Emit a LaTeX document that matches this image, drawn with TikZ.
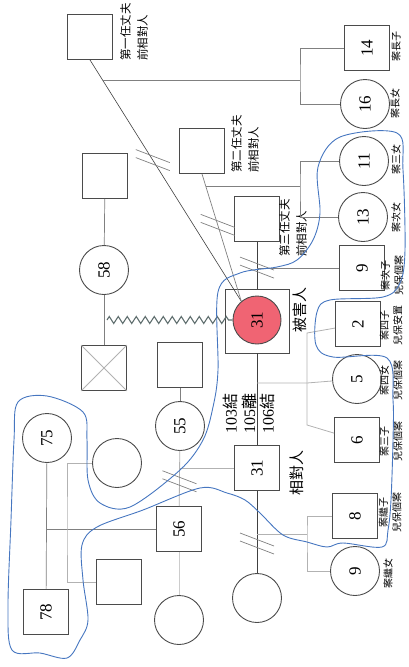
\documentclass[tikz,border=0pt]{standalone}
\usepackage{fontspec}
\usepackage{graphicx}
\setmainfont{Liberation Serif}
\newfontfamily\cjk{Noto Sans CJK TC}
\usetikzlibrary{calc,decorations.pathmorphing}

\definecolor{ink}{RGB}{75,75,75}
\definecolor{hurt}{RGB}{240,100,115}
\definecolor{pen}{RGB}{70,118,192}
\definecolor{zzc}{RGB}{95,110,110}
\newcommand{\rt}[1]{\rotatebox{90}{#1}}

\begin{document}
\begin{tikzpicture}[x=1pt, y=-1pt,
  sq/.style={rectangle, draw=ink, line width=0.9pt, minimum size=45pt, inner sep=0pt, font=\fontsize{17}{17}\selectfont},
  ci/.style={circle, draw=ink, line width=0.9pt, minimum size=49pt, inner sep=0pt, font=\fontsize{17}{17}\selectfont},
  tag/.style={rotate=90, align=center, inner sep=0pt, font=\cjk\fontsize{10}{13.5}\selectfont},
  who/.style={rotate=90, align=left, inner sep=0pt, font=\cjk\fontsize{11.5}{17}\selectfont},
  big/.style={rotate=90, inner sep=0pt, font=\cjk\fontsize{15}{15}\selectfont},
  dk/.style={draw=black!75, line width=0.6pt},
  md/.style={draw=black!50, line width=0.7pt},
  lg/.style={draw=black!30, line width=0.8pt},
  dv/.style={draw=black!50, line width=0.7pt},
  zz/.style={draw=zzc, line width=1.1pt, decorate, decoration={zigzag, segment length=9pt, amplitude=3.5pt}},
  brk/.pic={\draw[dv] (-17,-10.5) -- (17,2.5); \draw[dv] (-17,-2.5) -- (17,10.5);}
]
\useasboundingbox (0,0) rectangle (408,667);

% husbands of the victim
\node[sq] (h1) at (90,37) {};
\node[sq] (h2) at (202,151) {};
\node[sq] (h3) at (257,219) {};
\node[who] (lab1) at (134,32) {第一任丈夫\\前相對人};
\node[who] (lab2) at (245,144) {第二任丈夫\\前相對人};
\node[who] (lab3) at (293,228) {第三任丈夫\\前相對人};

% victim and abuser
\node[sq, minimum size=64pt] (vic) at (257,321) {};
\node[ci, fill=hurt, minimum size=48pt] (vicin) at (257,320) {\rt{31}};
\node[big] (vlab) at (300,310) {被害人};
\node[sq] (abu) at (257,468) {\rt{31}};
\node[big] (alab) at (297,473) {相對人};
\node[rotate=90, align=left, inner sep=0pt, font=\fontsize{16}{18.5}\selectfont] (yrs) at (249,413) {103{\cjk 結}\\105{\cjk 離}\\106{\cjk 結}};
\node[ci] (cw31) at (257,598) {};

% victim's parents
\node[sq] (gf) at (105,176) {};
\node[ci] (c58) at (104,270) {\rt{58}};
\node[sq] (dec) at (104,368) {};

% abuser's family
\node[sq] (sq55) at (180,365) {};
\node[ci] (c55) at (180,426) {\rt{55}};
\node[sq] (s56) at (179,529) {\rt{56}};
\node[ci] (cw56) at (179,620) {};
\node[ci] (c75) at (47,438) {\rt{75}};
\node[sq] (s78) at (46,612) {\rt{78}};
\node[ci] (csib) at (117,463) {};
\node[sq] (ssib) at (119,582) {};

% children
\node[sq] (s14) at (367,48) {\rt{14}};
\node[ci] (c16) at (365,104) {\rt{16}};
\node[ci] (c11) at (364,161) {\rt{11}};
\node[ci] (c13) at (363,217) {\rt{13}};
\node[sq] (s9) at (362,268) {\rt{9}};
\node[sq] (s2) at (358,324) {\rt{2}};
\node[ci] (c5) at (357,379) {\rt{5}};
\node[sq] (s6) at (357,440) {\rt{6}};
\node[sq] (s8) at (355,516) {\rt{8}};
\node[ci] (c9) at (355,571) {\rt{9}};

\node[tag] (t14) at (396,46) {案長子};
\node[tag] (t16) at (395,103) {案長女};
\node[tag] (t11) at (396,159) {案三女};
\node[tag] (t13) at (396,217) {案次女};
\node[tag] (t9) at (392,275) {案次子\\兒保個案};
\node[tag] (t2) at (391,325) {案四子\\兒保安置};
\node[tag] (t5) at (391,380) {案四女\\兒保個案};
\node[tag] (t6) at (391,441) {案三子\\兒保個案};
\node[tag] (t8) at (390,512) {案繼子\\兒保個案};
\node[tag] (t9c) at (388,573) {案繼女};

% marriages of the victim
\path (h1.south) -- (vicin.130) coordinate[pos=.083] (m1) coordinate[pos=.415] (d1);
\path (h2.south) -- (vicin.130) coordinate[pos=.094] (m2) coordinate[pos=.40] (d2);
\coordinate (x1) at (300,0);
\draw[dk] (h1.south) -- (vicin.130);
\draw[md] (h2.south) -- (vicin.130);
\draw[md] (m1) -- (m1 -| x1);
\draw[md] (s14) -| (m1 -| x1) |- (c16);
\draw[md] (m2) -- (m2 -| x1);
\draw[md] (c11) -| (m2 -| x1) |- (c13);
\draw[dk] (h3) -- (vic);
\draw[md] (h3.south |- s9) -- (s9);
\pic at (d1) {brk};
\pic at (d2) {brk};
\pic at ($(h3.south)!.55!(vic.north)$) {brk};

% victim and abuser, their children
\coordinate (k1) at (307,383);
\coordinate (k2) at (307,333);
\coordinate (k3) at (307,425);
\coordinate (k4) at (307,534);
\draw[dk] (vic) -- (abu);
\draw[lg] (k1 -| vic.south) -- (k1) -- (c5);
\draw[lg] (s2) -- (k2) -- (k3) -- (s6);
\draw[dk] (abu) -- (cw31);
\draw[lg] (k4 -| abu.south) -- (k4);
\draw[lg] (s8) -| (k4) |- (c9);
\pic at ($(abu.south)!.64!(cw31.north)$) {brk};

% parents
\draw[md] (gf) -- (c58);
\draw[md] (c58) -- (dec);
\draw[lg] (dec.north west) -- (dec.south east) (dec.north east) -- (dec.south west);
\draw[zz] ($(c58.south)!.5!(dec.north)+(3,0)$) -- (vicin.west);
\draw[md] (sq55) -- (c55);
\draw[lg] (c55) -- (s56);
\draw[lg] (c55.south |- abu) -- (abu);
\pic at ($(c55.south)!.55!(s56.north)$) {brk};
\draw[black!20, line width=0.8pt] (s56) -- (cw56);
\draw[md] (c75) -- (s78);
\draw[md] (c75.south |- s56) -- (s56);
\coordinate (sf) at (67,529);
\draw[lg] (csib) -| (sf) |- (ssib);

% hand drawn outline
\draw[pen, line width=0.9pt] plot[smooth cycle, tension=0.55] coordinates {
  (18,402) (47,396) (83,412) (87,440) (88,480) (100,503) (130,507) (180,470)
  (203,440) (213,407) (218,370) (218,292) (240,273) (277,267) (297,260)
  (313,240) (320,213) (318,167) (340,137) (397,133) (403,170) (405,250)
  (400,283) (383,297) (330,300) (317,312) (316,345) (333,357) (387,358)
  (393,400) (393,440) (391,500) (388,530) (382,547) (343,543) (327,547)
  (307,542) (283,535) (260,513) (245,500) (227,493) (200,488) (143,510)
  (97,527) (82,545) (83,580) (88,620) (80,640) (67,658) (40,653) (12,650)
  (8,607) (11,520) (14,440)};
\end{tikzpicture}
\end{document}
